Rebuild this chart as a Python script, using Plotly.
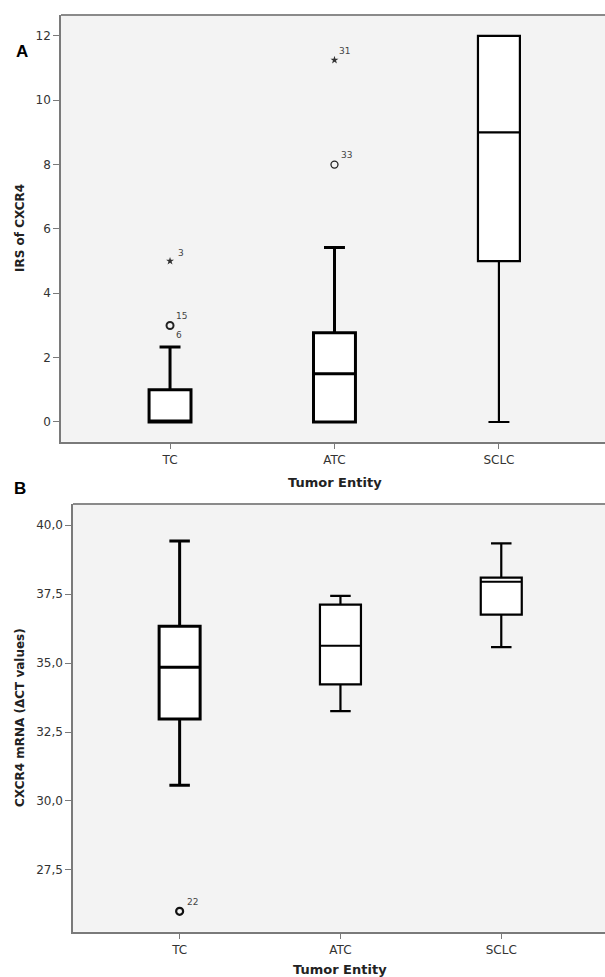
import plotly.graph_objects as go

W, H = 605, 977

categories = ["TC", "ATC", "SCLC"]

# Panel A: IRS of CXCR4
a_q1 = [0.0, 0.0, 5.0]
a_median = [0.0, 1.5, 9.0]
a_q3 = [1.0, 2.77, 12.0]
a_lower = [0.0, 0.0, 0.0]
a_upper = [2.33, 5.42, 12.0]
a_line_w = [3, 3, 2.2]
a_circle_cat = [0, 1]
a_circle_val = [3.0, 8.0]
a_star_cat = [0, 1]
a_star_val = [5.0, 11.25]
a_yticks = [0, 2, 4, 6, 8, 10, 12]
a_yticktext = ["0", "2", "4", "6", "8", "10", "12"]
# outlier case labels: (category index, value, text, x shift px, y shift px)
a_labels = [(0, 5.0, "3", 6, 8), (0, 3.0, "15", 4, 9), (0, 3.0, "6", 4, -10),
            (1, 11.25, "31", 3, 9), (1, 8.0, "33", 5, 10)]

# Panel B: CXCR4 mRNA (delta CT values)
b_q1 = [32.97, 34.23, 36.76]
b_median = [34.85, 35.63, 37.95]
b_q3 = [36.34, 37.12, 38.1]
b_lower = [30.57, 33.26, 35.58]
b_upper = [39.43, 37.44, 39.34]
b_line_w = [3, 2.2, 2.2]
b_circle_cat = [0]
b_circle_val = [26.0]
b_yticks = [27.5, 30.0, 32.5, 35.0, 37.5, 40.0]
b_yticktext = ["27,5", "30,0", "32,5", "35,0", "37,5", "40,0"]
b_labels = [(0, 26.0, "22", 5, 9)]

FONT = "DejaVu Sans"
TICKC = "#333333"
AXC = "#7a7a7a"

fig = go.Figure()

def add_boxes(q1, med, q3, lo, up, lw, xa, ya):
    for i in range(len(categories)):
        fig.add_trace(go.Box(
            x=[i], q1=[q1[i]], median=[med[i]], q3=[q3[i]],
            lowerfence=[lo[i]], upperfence=[up[i]],
            width=0.255, whiskerwidth=0.5, boxpoints=False,
            fillcolor="white", line=dict(color="black", width=lw[i]),
            xaxis=xa, yaxis=ya, showlegend=False, hoverinfo="skip"))

add_boxes(a_q1, a_median, a_q3, a_lower, a_upper, a_line_w, "x", "y")
add_boxes(b_q1, b_median, b_q3, b_lower, b_upper, b_line_w, "x2", "y2")

# outliers
fig.add_trace(go.Scatter(x=a_circle_cat, y=a_circle_val, mode="markers",
                         marker=dict(symbol="circle-open", size=7, color="#222",
                                     line=dict(width=[2, 1.3], color="#222")),
                         xaxis="x", yaxis="y", showlegend=False))
fig.add_trace(go.Scatter(x=a_star_cat, y=a_star_val, mode="markers",
                         marker=dict(symbol="star", size=6, color="#333"),
                         xaxis="x", yaxis="y", showlegend=False))
fig.add_trace(go.Scatter(x=b_circle_cat, y=b_circle_val, mode="markers",
                         marker=dict(symbol="circle-open", size=7, color="#111",
                                     line=dict(width=2.2, color="#111")),
                         xaxis="x2", yaxis="y2", showlegend=False))

annotations = []
for (c, v, t, dx, dy) in a_labels:
    annotations.append(dict(x=c, y=v, xref="x", yref="y", text=t, showarrow=False,
                            xanchor="left", yanchor="middle", xshift=dx, yshift=dy,
                            font=dict(family=FONT, size=9, color="#444")))
for (c, v, t, dx, dy) in b_labels:
    annotations.append(dict(x=c, y=v, xref="x2", yref="y2", text=t, showarrow=False,
                            xanchor="left", yanchor="middle", xshift=dx, yshift=dy,
                            font=dict(family=FONT, size=9, color="#444")))

def px(x):
    return x / W

def py(y):
    return 1 - y / H

# axis titles and panel letters
annotations += [
    dict(x=px(334.5), y=py(482), xref="paper", yref="paper", text="<b>Tumor Entity</b>",
         showarrow=False, xanchor="center", yanchor="middle",
         font=dict(family=FONT, size=13, color="#222")),
    dict(x=px(340), y=py(969), xref="paper", yref="paper", text="<b>Tumor Entity</b>",
         showarrow=False, xanchor="center", yanchor="middle",
         font=dict(family=FONT, size=13, color="#222")),
    dict(x=px(20), y=py(228), xref="paper", yref="paper", text="<b>IRS of CXCR4</b>",
         showarrow=False, textangle=-90, xanchor="center", yanchor="middle",
         font=dict(family=FONT, size=12, color="#222")),
    dict(x=px(20), y=py(718), xref="paper", yref="paper", text="<b>CXCR4 mRNA (ΔCT values)</b>",
         showarrow=False, textangle=-90, xanchor="center", yanchor="middle",
         font=dict(family=FONT, size=12, color="#222")),
    dict(x=px(22), y=py(51), xref="paper", yref="paper", text="<b>A</b>",
         showarrow=False, xanchor="center", yanchor="middle",
         font=dict(family="Liberation Sans", size=17, color="black")),
    dict(x=px(20.5), y=py(488.5), xref="paper", yref="paper", text="<b>B</b>",
         showarrow=False, xanchor="center", yanchor="middle",
         font=dict(family="Liberation Sans", size=17, color="black")),
]

axis_common = dict(showgrid=False, zeroline=False, showline=True, linecolor=AXC,
                   linewidth=1.5, ticks="outside", ticklen=6, tickcolor=AXC,
                   tickfont=dict(family=FONT, size=12, color=TICKC))

fig.update_layout(
    width=W, height=H, margin=dict(l=0, r=0, t=0, b=0),
    paper_bgcolor="white", plot_bgcolor="#f3f3f3",
    annotations=annotations,
    xaxis=dict(domain=[px(61), 1], range=[-0.663, 2.645], anchor="y",
               tickvals=[0, 1, 2], ticktext=categories, **axis_common),
    yaxis=dict(domain=[py(441.7), py(15)], range=[-0.613, 12.65], anchor="x",
               tickvals=a_yticks, ticktext=a_yticktext, **axis_common),
    xaxis2=dict(domain=[px(73), 1], range=[-0.663, 2.645], anchor="y2",
                tickvals=[0, 1, 2], ticktext=categories, **axis_common),
    yaxis2=dict(domain=[py(931.7), py(504)], range=[25.26, 40.77], anchor="x2",
                tickvals=b_yticks, ticktext=b_yticktext, **axis_common),
    shapes=[
        dict(type="line", xref="paper", yref="paper", x0=px(61), x1=1, y0=py(15), y1=py(15),
             line=dict(color="#8a8a8a", width=2)),
        dict(type="line", xref="paper", yref="paper", x0=px(73), x1=1, y0=py(504), y1=py(504),
             line=dict(color="#8a8a8a", width=2)),
    ],
)

fig.write_html("out.html", config={"displayModeBar": False},
               post_script="document.body.style.margin='0';document.body.style.overflow='hidden';")
